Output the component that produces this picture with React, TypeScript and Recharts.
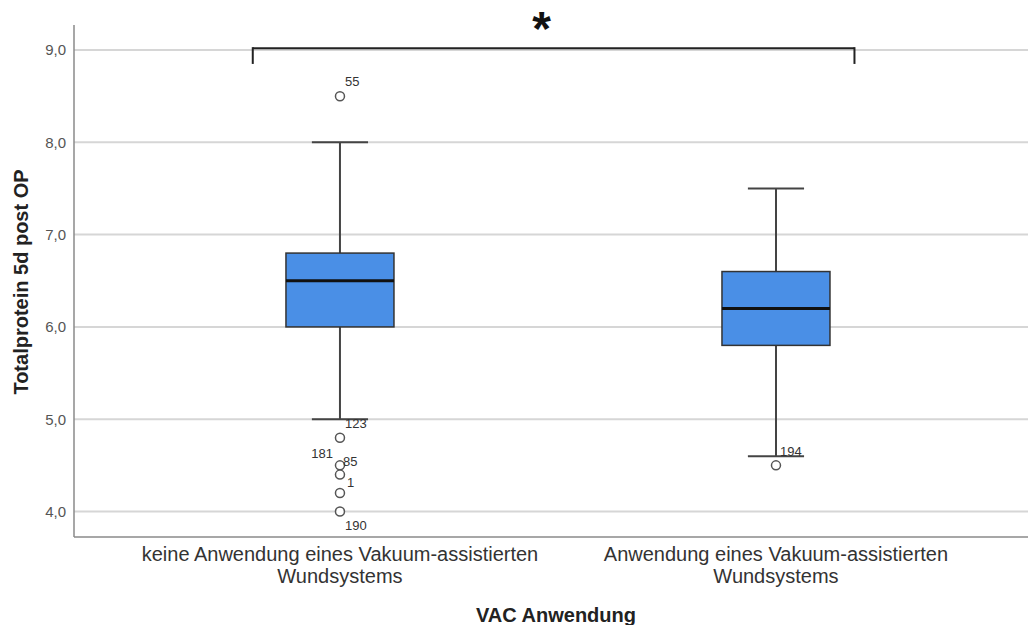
import React from 'react';
import {
  Bar,
  CartesianGrid,
  ComposedChart,
  Label,
  ReferenceLine,
  Scatter,
  XAxis,
  YAxis,
} from 'recharts';

// Box statistics per group.
const groupLines = [
  ['keine Anwendung eines Vakuum-assistierten', 'Wundsystems'],
  ['Anwendung eines Vakuum-assistierten', 'Wundsystems'],
];
const groupX = [1, 2];
const q1 = [6.0, 5.8];
const medians = [6.5, 6.2];
const q3 = [6.8, 6.6];
const whiskerLo = [5.0, 4.6];
const whiskerHi = [8.0, 7.5];

// Outliers: group, value, case number.
const outlierGroup = [1, 1, 1, 1, 1, 1, 2];
const outlierValue = [8.5, 4.8, 4.5, 4.4, 4.2, 4.0, 4.5];
const outlierCase = ['55', '123', '85', '181', '1', '190', '194'];

const yTicks = [4, 5, 6, 7, 8, 9];

// Significance bracket between the two groups.
const bracketFrom = 0.8;
const bracketTo = 2.18;
const bracketY = 9.02;
const bracketDrop = 8.86;

// Where each case label sits next to its circle (SPSS shuffles them around).
const CASE_LABEL: Record<string, { dx: number; dy: number; anchor: 'start' | 'end' }> = {
  '55': { dx: 5, dy: -10, anchor: 'start' },
  '123': { dx: 5, dy: -10, anchor: 'start' },
  '85': { dx: 3, dy: 1, anchor: 'start' },
  '181': { dx: -7, dy: -17, anchor: 'end' },
  '1': { dx: 7, dy: -6, anchor: 'start' },
  '190': { dx: 5, dy: 18, anchor: 'start' },
  '194': { dx: 4, dy: -9, anchor: 'start' },
};

const FONT = '"Liberation Sans", Arial, sans-serif';

const boxData = groupX.map((x, i) => ({
  x,
  q1: q1[i],
  med: medians[i],
  q3: q3[i],
  lo: whiskerLo[i],
  hi: whiskerHi[i],
}));

const outlierData = outlierValue.map((v, i) => ({ x: outlierGroup[i], y: v, id: outlierCase[i] }));

// Box + median + whiskers; pixel positions derived from the bar's own q1..q3 span.
function BoxShape(props: any) {
  const { x, y, width, height, payload } = props;
  const top = Math.min(y, y + height);
  const h = Math.abs(height);
  const unit = h / (payload.q3 - payload.q1);
  const toY = (v: number) => top + (payload.q3 - v) * unit;
  const cx = x + width / 2;
  const cap = width * 0.26;
  return (
    <g>
      <line x1={cx} x2={cx} y1={toY(payload.hi)} y2={top} stroke="#444" strokeWidth={2} />
      <line x1={cx} x2={cx} y1={top + h} y2={toY(payload.lo)} stroke="#444" strokeWidth={2} />
      <line x1={cx - cap} x2={cx + cap} y1={toY(payload.hi)} y2={toY(payload.hi)} stroke="#444" strokeWidth={2} />
      <line x1={cx - cap} x2={cx + cap} y1={toY(payload.lo)} y2={toY(payload.lo)} stroke="#444" strokeWidth={2} />
      <rect x={x} y={top} width={width} height={h} fill="#4a8fe6" stroke="#333" strokeWidth={1.5} />
      <line x1={x} x2={x + width} y1={toY(payload.med)} y2={toY(payload.med)} stroke="#111" strokeWidth={3} />
    </g>
  );
}

function OutlierShape(props: any) {
  const { cx, cy, payload } = props;
  const lab = CASE_LABEL[payload.id] ?? { dx: 5, dy: -8, anchor: 'start' };
  return (
    <g>
      <circle cx={cx} cy={cy} r={4.5} fill="#fff" stroke="#555" strokeWidth={1.5} />
      <text x={cx + lab.dx} y={cy + lab.dy} textAnchor={lab.anchor} fontSize={13} fill="#333" fontFamily={FONT}>
        {payload.id}
      </text>
    </g>
  );
}

function GroupTick(props: any) {
  const { x, y, payload } = props;
  const idx = groupX.indexOf(payload.value);
  const lines = groupLines[idx] ?? [];
  return (
    <text x={x} y={y} textAnchor="middle" fontSize={20} fill="#333" fontFamily={FONT}>
      {lines.map((l, i) => (
        <tspan key={i} x={x} dy={i === 0 ? 16 : 22}>
          {l}
        </tspan>
      ))}
    </text>
  );
}

export default function App() {
  return (
    <div style={{ width: 1028, height: 625, fontFamily: FONT, background: '#fff' }}>
      <style>{'body{margin:0}'}</style>
      <ComposedChart width={1028} height={625} data={boxData} margin={{ top: 25, right: 0, bottom: 8, left: 0 }}>
        <CartesianGrid vertical={false} syncWithTicks stroke="#d6d6d6" strokeWidth={2} />
        <XAxis
          type="number"
          dataKey="x"
          domain={[0.39, 2.578]}
          ticks={groupX}
          interval={0}
          allowDataOverflow
          height={80}
          tickLine={false}
          axisLine={{ stroke: '#8a8a8a', strokeWidth: 1.5 }}
          tick={<GroupTick />}
          label={{
            content: () => (
              <text x={556} y={622} textAnchor="middle" fontSize={20} fontWeight="bold" fill="#222" fontFamily={FONT}>
                VAC Anwendung
              </text>
            ),
          }}
        />
        <YAxis
          type="number"
          domain={[3.724, 9.271]}
          ticks={yTicks}
          allowDataOverflow
          width={74}
          tickLine={false}
          axisLine={{ stroke: '#8a8a8a', strokeWidth: 1.5 }}
          tick={{ fontSize: 15, fill: '#555', fontFamily: FONT }}
          tickFormatter={(v: number) => v.toFixed(1).replace('.', ',')}
          label={{
            content: () => (
              <text
                transform="translate(28,282) rotate(-90)"
                textAnchor="middle"
                fontSize={20}
                fontWeight="bold"
                fill="#222"
                fontFamily={FONT}
              >
                Totalprotein 5d post OP
              </text>
            ),
          }}
        />
        <Bar
          dataKey={(d: any) => [d.q1, d.q3]}
          barSize={108}
          shape={<BoxShape />}
          isAnimationActive={false}
        />
        <Scatter data={outlierData} dataKey="y" shape={<OutlierShape />} isAnimationActive={false} />
        <ReferenceLine
          segment={[{ x: bracketFrom, y: bracketY }, { x: bracketTo, y: bracketY }]}
          stroke="#222"
          strokeWidth={2}
          ifOverflow="visible"
        >
          <Label value="*" position="top" offset={3} dx={-12} fontSize={48} fontWeight="bold" fill="#111" fontFamily={FONT} />
        </ReferenceLine>
        <ReferenceLine
          segment={[{ x: bracketFrom, y: bracketY }, { x: bracketFrom, y: bracketDrop }]}
          stroke="#222"
          strokeWidth={2}
          strokeLinecap="square"
          ifOverflow="visible"
        />
        <ReferenceLine
          segment={[{ x: bracketTo, y: bracketY }, { x: bracketTo, y: bracketDrop }]}
          stroke="#222"
          strokeWidth={2}
          strokeLinecap="square"
          ifOverflow="visible"
        />
      </ComposedChart>
    </div>
  );
}
